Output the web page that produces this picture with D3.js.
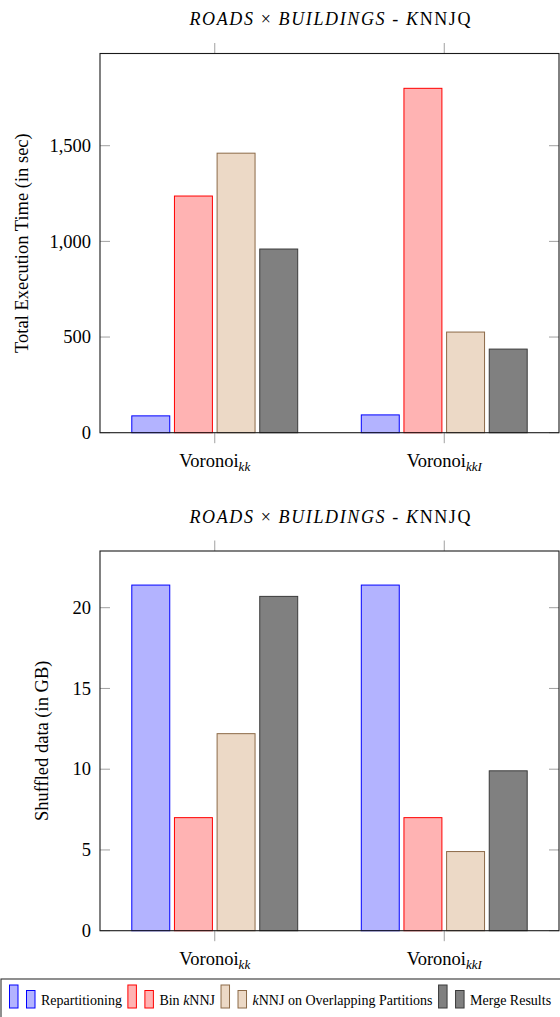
<!DOCTYPE html>
<html>
<head>
<meta charset="utf-8">
<script src="https://cdn.jsdelivr.net/npm/d3@7"></script>
<style>
  body { margin: 0; background: #fff; }
  svg, svg text { font-family: "Liberation Serif", "Times New Roman", Times, serif; }
</style>
</head>
<body>
<div id="chart"></div>
<script>
// Categories (base name + italic subscript)
const categoryNames = ["Voronoi", "Voronoi"];
const categorySubs = ["kk", "kkI"];
const categories = ["Voronoi_kk", "Voronoi_kkI"];

// Series
const seriesNames = ["Repartitioning", "Bin kNNJ", "kNNJ on Overlapping Partitions", "Merge Results"];
const seriesFill = ["#b3b3ff", "#ffb3b3", "#ecd9c6", "#808080"];
const seriesStroke = ["#0000ff", "#ff0000", "#8c6a48", "#3a3a3a"];

// Total execution time (sec), per series, per category
const timeRepartitioning = [88, 93];
const timeBin = [1237, 1800];
const timeOverlap = [1461, 526];
const timeMerge = [960, 437];

// Shuffled data (GB), per series, per category
const shuffleRepartitioning = [21.4, 21.4];
const shuffleBin = [7.0, 7.0];
const shuffleOverlap = [12.2, 4.9];
const shuffleMerge = [20.7, 9.9];

const timeTicks = [0, 500, 1000, 1500];
const shuffleTicks = [0, 5, 10, 15, 20];

const W = 560, H = 1017;
const svg = d3.select("#chart").append("svg")
  .attr("width", W)
  .attr("height", H)
  .attr("font-family", "'Liberation Serif', 'Times New Roman', serif");

const frameLeft = 100, frameRight = 559;

const x = d3.scalePoint()
  .domain(categories)
  .range([frameLeft, frameRight])
  .padding(0.5);

const xOffset = d3.scaleBand()
  .domain(seriesNames)
  .range([-85.3, 85.3])
  .paddingInner(0.11)
  .paddingOuter(0.055);

function drawPanel(opts) {
  const { top, bottom, yMax, ticks, values, yLabel, yLabelX, tickFormat } = opts;
  const g = svg.append("g");

  const y = d3.scaleLinear()
    .domain([0, yMax])
    .range([bottom, top]);

  // Title
  const title = g.append("text")
    .attr("x", (frameLeft + frameRight) / 2 + 0.5)
    .attr("y", top - 28.5)
    .attr("text-anchor", "middle")
    .attr("font-size", 18)
    .attr("textLength", 281)
    .attr("lengthAdjust", "spacing");
  title.append("tspan").attr("font-style", "italic").text("ROADS");
  title.append("tspan").text(" \u00d7 ");
  title.append("tspan").attr("font-style", "italic").text("BUILDINGS");
  title.append("tspan").text(" - ");
  title.append("tspan").attr("font-style", "italic").text("K");
  title.append("tspan").text("NNJQ");

  // Bars
  const rows = [];
  values.forEach((vals, si) => {
    vals.forEach((v, ci) => rows.push({ s: si, c: ci, v: v }));
  });

  g.append("g").selectAll("rect")
    .data(rows)
    .enter()
    .append("rect")
    .attr("x", d => x(categories[d.c]) + xOffset(seriesNames[d.s]))
    .attr("y", d => y(d.v))
    .attr("width", xOffset.bandwidth())
    .attr("height", d => y(0) - y(d.v))
    .attr("fill", d => seriesFill[d.s])
    .attr("stroke", d => seriesStroke[d.s])
    .attr("stroke-width", 1);

  // Y ticks, inward on both sides
  const yTicks = g.append("g");
  ticks.forEach(t => {
    yTicks.append("line")
      .attr("x1", frameLeft).attr("x2", frameLeft + 10)
      .attr("y1", y(t)).attr("y2", y(t));
    yTicks.append("line")
      .attr("x1", frameRight - 10).attr("x2", frameRight)
      .attr("y1", y(t)).attr("y2", y(t));
  });
  yTicks.selectAll("line").attr("stroke", "#a0a0a0").attr("stroke-width", 1);

  g.append("g").selectAll("text")
    .data(ticks)
    .enter()
    .append("text")
    .attr("x", frameLeft - 9)
    .attr("y", d => y(d))
    .attr("dy", "0.34em")
    .attr("text-anchor", "end")
    .attr("font-size", 18.5)
    .text(d => tickFormat(d));

  // X ticks, outward top and bottom
  const xTicks = g.append("g");
  categories.forEach(c => {
    xTicks.append("line")
      .attr("x1", x(c)).attr("x2", x(c))
      .attr("y1", top - 10.5).attr("y2", top);
    xTicks.append("line")
      .attr("x1", x(c)).attr("x2", x(c))
      .attr("y1", bottom).attr("y2", bottom + 10.5);
  });
  xTicks.selectAll("line").attr("stroke", "#a0a0a0").attr("stroke-width", 1);

  // X labels with subscript
  categories.forEach((c, i) => {
    const t = g.append("text")
      .attr("x", x(c))
      .attr("y", bottom + 33.8)
      .attr("text-anchor", "middle")
      .attr("font-size", 18.5);
    t.append("tspan").text(categoryNames[i]);
    t.append("tspan")
      .attr("font-style", "italic")
      .attr("font-size", 13)
      .attr("dy", 4)
      .text(categorySubs[i]);
  });

  // Frame
  g.append("rect")
    .attr("x", frameLeft)
    .attr("y", top)
    .attr("width", frameRight - frameLeft)
    .attr("height", bottom - top)
    .attr("fill", "none")
    .attr("stroke", "#1a1a1a")
    .attr("stroke-width", 1.1);

  // Y axis label
  g.append("text")
    .attr("transform", `translate(${yLabelX},${(top + bottom) / 2}) rotate(-90)`)
    .attr("text-anchor", "middle")
    .attr("font-size", 18.5)
    .text(yLabel);
}

drawPanel({
  top: 53.5,
  bottom: 432.7,
  yMax: 1982,
  ticks: timeTicks,
  values: [timeRepartitioning, timeBin, timeOverlap, timeMerge],
  yLabel: "Total Execution Time (in sec)",
  yLabelX: 28,
  tickFormat: d3.format(",")
});

drawPanel({
  top: 551,
  bottom: 930.7,
  yMax: 23.51,
  ticks: shuffleTicks,
  values: [shuffleRepartitioning, shuffleBin, shuffleOverlap, shuffleMerge],
  yLabel: "Shuffled data (in GB)",
  yLabelX: 48,
  tickFormat: d3.format("d")
});

// Legend
const legend = svg.append("g");
legend.append("rect")
  .attr("x", 1)
  .attr("y", 979)
  .attr("width", W + 10)
  .attr("height", 60)
  .attr("fill", "#fff")
  .attr("stroke", "#333")
  .attr("stroke-width", 1.1);

let lx = 9.5;
seriesNames.forEach((name, i) => {
  legend.append("rect")
    .attr("x", lx).attr("y", 985)
    .attr("width", 8.5).attr("height", 23)
    .attr("fill", seriesFill[i]).attr("stroke", seriesStroke[i]).attr("stroke-width", 1);
  legend.append("rect")
    .attr("x", lx + 17).attr("y", 990.5)
    .attr("width", 8.5).attr("height", 17.5)
    .attr("fill", seriesFill[i]).attr("stroke", seriesStroke[i]).attr("stroke-width", 1);
  const t = legend.append("text")
    .attr("x", lx + 31.5)
    .attr("y", 1005)
    .attr("font-size", 14);
  if (name.indexOf("kNNJ") >= 0) {
    const parts = name.split("kNNJ");
    t.append("tspan").text(parts[0]);
    t.append("tspan").attr("font-style", "italic").text("k");
    t.append("tspan").text("NNJ" + parts[1]);
  } else {
    t.text(name);
  }
  lx = lx + 31.5 + t.node().getComputedTextLength() + 6;
});
</script>
</body>
</html>
